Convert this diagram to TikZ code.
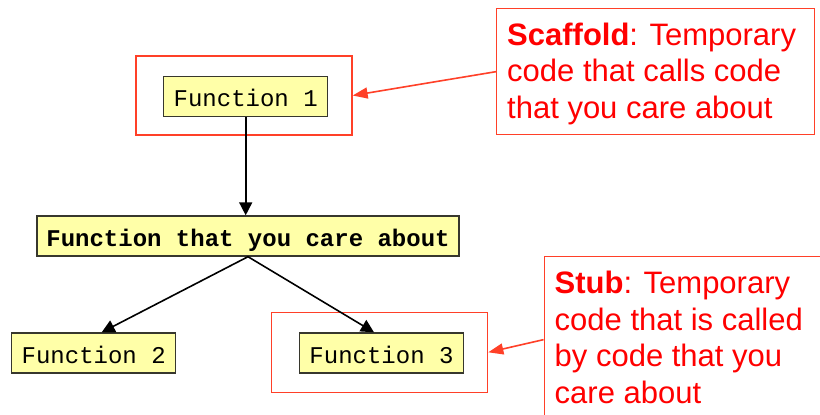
\documentclass[tikz,border=0pt]{standalone}
\usepackage{fontspec}
\setmainfont{Liberation Sans}
\newfontfamily\monofont{Liberation Mono}
\usetikzlibrary{arrows.meta,calc}
\definecolor{boxfill}{RGB}{255,255,168}
\definecolor{boxline}{RGB}{55,55,45}
\definecolor{noteline}{RGB}{255,64,40}
\definecolor{notetext}{RGB}{255,0,0}
\begin{document}
\begin{tikzpicture}[x=1bp,y=-1bp,
  fn/.style={draw=boxline, fill=boxfill, line width=1.4bp, minimum height=40bp, inner sep=0pt,
    text height=20bp, text depth=0bp,
    font=\monofont\fontsize{24bp}{28bp}\selectfont},
  fnbold/.style={fn, font=\monofont\bfseries\fontsize{24bp}{28bp}\selectfont},
  outerbox/.style={draw=noteline, line width=1.3bp, inner sep=0pt},
  notebox/.style={draw=noteline, line width=1.3bp, inner sep=0pt, anchor=north west},
  notetxt/.style={text=notetext, anchor=base west, align=left, inner sep=0pt,
    font=\fontsize{31bp}{36.7bp}\selectfont},
  arr/.style={-{Triangle[length=13bp,width=13bp]}, line width=1.6bp, draw=black},
  redarr/.style={-{Triangle[length=15bp,width=11bp]}, line width=1.6bp, draw=noteline, fill=noteline}
]
\useasboundingbox (0,0) rectangle (820,414);
\fill[white] (0,0) rectangle (820,414);

\node[outerbox, minimum width=216bp, minimum height=79bp] (o1) at (244,95.5) {};
\node[fn, minimum width=164bp] (f1) at (245.7,96.7) {Function 1};
\node[fnbold, minimum width=422bp] (main) at (248,236) {Function that you care about};
\node[fn, minimum width=164bp] (f2) at (93.7,353) {Function 2};
\node[outerbox, minimum width=216bp, minimum height=80bp] (o3) at (379.7,352.3) {};
\node[fn, minimum width=164bp] (f3) at (381.5,353) {Function 3};

\node[notebox, minimum width=318bp, minimum height=126bp] (scaf) at (496,8) {};
\node[notetxt] (scaftxt) at (507,118.4) {\textbf{Scaffold}: Temporary\\code that calls code\\that you care about};
\node[notebox, minimum width=290bp, minimum height=166bp] (stub) at (543.5,256) {};
\node[notetxt] (stubtxt) at (554.5,403.5) {\textbf{Stub}: Temporary\\code that is called\\by code that you\\care about};

\draw[arr] (f1.south) -- (f1.south |- main.north);
\draw[arr] (main.south) -- ($(f2.north)+(8,0)$);
\draw[arr] (main.south) -- ($(f3.north)+(-7.5,0)$);
\draw[redarr] (scaf.west) -- (o1.east);
\draw[redarr] (stub.west) -- (o3.east);
\end{tikzpicture}
\end{document}
